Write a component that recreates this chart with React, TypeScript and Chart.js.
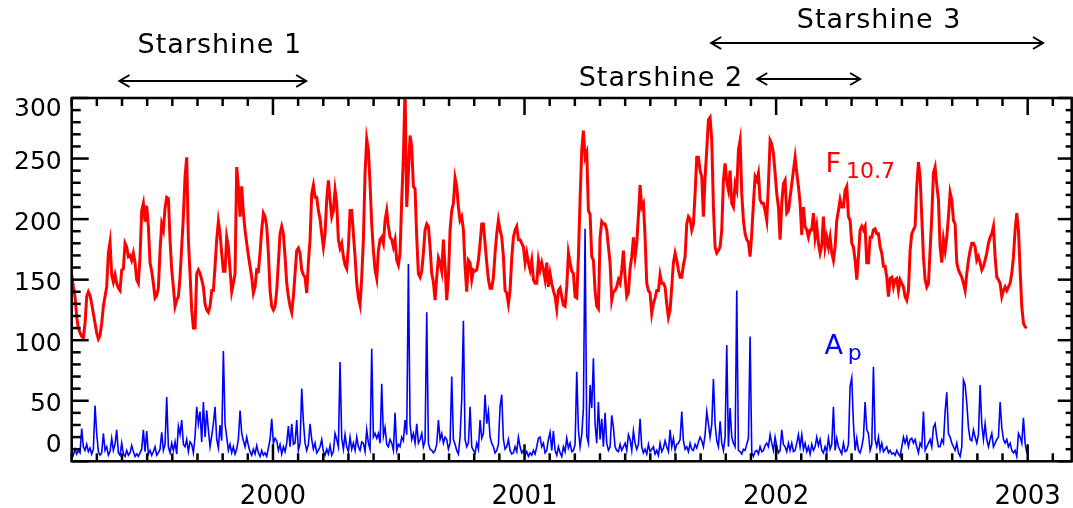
import React, { useEffect, useRef } from 'react';
import { Chart, registerables } from 'chart.js';

Chart.register(...registerables);

// ---- data -------------------------------------------------------------
// Daily-ish series sampled every STEP_DAYS, starting at START_YEAR (decimal year)
const START_YEAR = 1999.2;
const STEP_DAYS = 2.42;

// Solar radio flux F10.7
const F107 = [
  154, 144, 136, 119, 110, 106, 103, 102, 114, 136,
  140, 137, 130, 122, 114, 106, 101, 104, 114, 128,
  136, 144, 172, 181, 154, 148, 154, 147, 143, 141,
  158, 159, 180, 177, 169, 170, 166, 172, 164, 150,
  147, 169, 207, 213, 198, 211, 194, 164, 157, 147,
  135, 137, 143, 174, 196, 191, 209, 218, 217, 183,
  158, 144, 128, 133, 136, 152, 177, 202, 235, 251,
  183, 155, 125, 110, 110, 155, 158, 155, 150, 144,
  130, 125, 123, 128, 141, 141, 161, 183, 198, 188,
  172, 157, 157, 185, 177, 158, 140, 147, 155, 243,
  227, 202, 227, 205, 191, 180, 170, 161, 152, 139,
  144, 158, 157, 172, 191, 205, 202, 194, 172, 141,
  128, 125, 128, 141, 164, 188, 194, 188, 169, 147,
  136, 128, 123, 136, 155, 174, 176,
  172, 158, 154, 152, 139, 164, 183, 221, 228, 218,
  218, 207, 200, 188, 177, 188, 216, 232, 216, 202,
  207, 224, 213, 183, 176, 180, 169, 162, 159, 177,
  207, 207, 188, 169, 147, 135, 129, 152, 183, 238,
  266, 257, 229, 196, 174, 158, 151, 174, 183, 185,
  180, 199, 207, 194, 185, 183, 177, 183, 166, 162,
  172, 216, 251, 308, 210, 238, 269, 260, 227, 225,
  185, 155, 152, 157, 172, 191, 196, 194, 177, 155,
  148, 133, 152, 168, 164, 157, 183, 161, 133, 152,
  191, 207, 213, 234, 227, 210, 199, 202, 191, 161,
  140, 166, 164, 150, 158, 157, 158, 166, 180, 196,
  196, 180, 164, 150, 143, 143, 152, 172, 188, 199,
  191, 185, 169, 141, 139, 130, 141, 168, 185, 191,
  194, 183, 183, 180, 177, 164, 172, 164, 158, 166,
  150, 147, 147, 166,
  158, 164, 158, 150, 164, 144, 155, 147, 141, 136,
  126, 141, 143, 136, 129, 128, 144, 172, 164, 157,
  155, 136, 135, 169, 216, 257, 273, 251, 255, 207,
  204, 169, 166, 141, 128, 126, 185, 198, 196, 196,
  191, 177, 164, 133, 140, 141, 144, 150, 147, 158,
  174, 152, 136, 139, 159, 169, 185, 169, 180, 203,
  228, 210, 213, 185, 147, 141, 139, 122, 130, 135,
  141, 141, 154, 147, 147, 144, 130, 119, 125, 144,
  164, 172, 166, 158, 152, 152, 162, 169, 196, 202,
  200, 191, 196, 221, 251, 251, 240, 235, 202, 235,
  257, 282, 284, 265, 210, 177, 172, 174, 177, 191,
  232, 246, 231, 224, 240, 213, 210, 229, 224, 257,
  265, 221, 199, 188, 183, 181, 169, 188, 213, 235,
  232, 238, 216, 213, 213, 207, 199, 229, 265, 262,
  254, 238, 221, 210, 183, 213, 229, 232, 205, 207,
  218, 229, 240, 251, 238, 227, 213, 187, 210, 194,
  191, 185, 191, 191, 205, 185, 194, 180, 172, 178,
  202, 177, 185, 177, 185, 172, 166, 177, 199, 207,
  216, 210, 210, 224, 227, 202, 199, 180, 177, 166,
  150, 169, 191, 194, 191, 194, 164, 164, 185, 185,
  191, 192, 188, 188, 177, 172, 161, 161, 152, 136,
  151, 152, 144, 150, 151, 141, 150, 147, 144, 136,
  133, 141, 174, 188, 191, 194, 227, 247, 235, 202,
  169, 150, 144, 147, 174, 202, 238, 243, 228, 216,
  177, 164, 183, 174, 185, 202, 222, 216, 199, 196,
  164, 158, 155, 152, 147, 141, 155, 166, 174, 180,
  180, 177, 166, 169, 164, 158, 161, 166, 172, 180,
  185, 188, 194, 169, 152, 150, 147, 136, 141, 144,
  141, 144, 147, 155, 169, 191, 205, 191, 158, 128,
  114, 111, 110,
];

// Geomagnetic index Ap
const AP = [
  8, 5, 10, 6, 9, 7, 27, 12, 9, 14,
  8, 11, 6, 10, 46, 23, 8, 5, 7, 23,
  9, 12, 5, 8, 19, 9, 14, 26, 7, 5,
  15, 6, 4, 9, 5, 7, 13, 8, 4, 6,
  4, 7, 10, 26, 8, 25, 6, 9, 5, 8,
  12, 5, 7, 10, 24, 9, 14, 53, 12, 7,
  15, 9, 16, 6, 29, 22, 34, 14, 12, 18,
  8, 16, 14, 7, 20, 45, 31, 41, 16, 49,
  20, 42, 26, 12, 21, 31, 45, 18, 11, 30,
  17, 91, 31, 20, 9, 14, 7, 12, 6, 10,
  18, 42, 23, 17, 12, 20, 13, 8, 5, 10,
  6, 13, 7, 4, 9, 5, 7, 4, 11, 18,
  35, 15, 19, 17, 9, 14, 6, 12, 8, 15,
  29, 12, 31, 14, 15, 34, 9,
  15, 60, 33, 15, 9, 14, 31, 18, 10, 15,
  7, 9, 12, 18, 8, 5, 10, 6, 13, 5,
  8, 23, 18, 12, 82, 19, 10, 22, 12, 8,
  20, 10, 15, 9, 20, 12, 9, 16, 15, 8,
  26, 15, 10, 93, 20, 23, 19, 23, 15, 64,
  21, 28, 14, 12, 18, 15, 9, 40, 9, 14,
  12, 20, 17, 34, 22, 163, 31, 18, 23, 15,
  31, 15, 18, 23, 12, 17, 123, 15, 10, 9,
  7, 9, 14, 34, 18, 23, 15, 20, 18, 10,
  15, 70, 18, 14, 9, 6, 20, 51, 116, 18,
  12, 15, 45, 12, 9, 7, 15, 10, 34, 19,
  23, 55, 31, 41, 20, 15, 12, 7, 9, 14,
  45, 55, 18, 10, 12, 18, 9, 6, 7, 12,
  8, 20, 12, 7, 9, 5, 8, 4, 7, 5,
  9, 6, 12, 19,
  20, 12, 15, 7, 9, 18, 24, 9, 25, 9,
  5, 12, 7, 4, 12, 8, 19, 11, 15, 8,
  9, 14, 74, 26, 12, 22, 44, 192, 21, 15,
  63, 44, 85, 31, 15, 49, 18, 35, 12, 40,
  15, 9, 12, 38, 28, 12, 9, 8, 14, 9,
  12, 15, 9, 22, 18, 9, 25, 15, 10, 14,
  35, 12, 7, 10, 6, 14, 8, 10, 12, 6,
  9, 5, 15, 8, 11, 17, 12, 8, 26, 12,
  19, 9, 14, 15, 18, 41, 17, 10, 12, 8,
  15, 10, 9, 14, 11, 16, 20, 17, 12, 22,
  41, 31, 20, 30, 68, 31, 17, 12, 33, 15,
  9, 20, 96, 12, 44, 20, 15, 12, 141, 9,
  8, 6, 10, 9, 14, 19, 103, 7, 4, 8,
  9, 6, 12, 8, 9, 13, 15, 12, 22, 15,
  9, 20, 12, 7, 9, 26, 14, 12, 8, 15,
  9, 15, 8, 9, 15, 22, 12, 22, 10, 15,
  8, 12, 6, 14, 9, 12, 20, 13, 18, 9,
  7, 12, 8, 19, 10, 14, 45, 9, 19, 12,
  9, 6, 15, 8, 9, 14, 62, 69, 31, 9,
  19, 9, 7, 12, 20, 49, 26, 23, 9, 14,
  78, 18, 12, 20, 9, 15, 8, 10, 12, 7,
  9, 6, 7, 5, 9, 6, 4, 12, 20, 15,
  20, 12, 18, 19, 15, 18, 12, 7, 15, 12,
  41, 9, 12, 15, 18, 12, 28, 31, 20, 12,
  12, 18, 15, 41, 57, 23, 20, 15, 12, 9,
  15, 7, 4, 12, 67, 63, 48, 28, 18, 17,
  26, 20, 15, 22, 63, 31, 18, 31, 18, 12,
  18, 23, 12, 15, 18, 20, 49, 28, 18, 15,
  18, 12, 15, 9, 7, 9, 4, 23, 20, 15,
  36, 15, 7,
];

const X_MIN = 1999.2;
const X_MAX = 2003.175;
const X_TICK_YEARS = [2000, 2001, 2002, 2003];
const Y_TICK_LABELS = ['0', '50', '100', '150', '200', '250', '300'];
const Y_TICK_VALUES = [0, 50, 100, 150, 200, 250, 300];

// Satellite lifetimes (decimal years)
const MISSION_NAMES = ['Starshine 1', 'Starshine 2', 'Starshine 3'];
const MISSION_START = [1999.39, 2001.925, 2001.742];
const MISSION_END = [2000.132, 2002.334, 2003.061];

const SERIES_LABELS = [
  { main: 'F', sub: '10.7', color: '#ff0000', x: 2002.196, y: 239 },
  { main: 'A', sub: 'p', color: '#0000ff', x: 2002.192, y: 89 },
];

const FONT = 'DejaVu Sans';

// ---- helpers -----------------------------------------------------------
const toPoints = (vals: number[]) =>
  vals.map((v, i) => ({ x: START_YEAR + (i * STEP_DAYS) / 365.25, y: v }));

const line = (ctx: CanvasRenderingContext2D, x1: number, y1: number, x2: number, y2: number) => {
  ctx.beginPath();
  ctx.moveTo(x1, y1);
  ctx.lineTo(x2, y2);
  ctx.stroke();
};

const framePlugin = {
  id: 'frameAndAnnotations',
  afterDatasetsDraw(chart: any) {
    const { ctx, chartArea: a, scales } = chart;
    const xs = scales.x;
    const ys = scales.y;
    ctx.save();
    ctx.strokeStyle = '#000';
    ctx.fillStyle = '#000';
    ctx.lineWidth = 2.5;
    ctx.lineCap = 'butt';
    ctx.strokeRect(a.left, a.top, a.right - a.left, a.bottom - a.top);

    // y ticks (inward), left & right
    for (let v = 0; v <= 300; v += 10) {
      const y = ys.getPixelForValue(v);
      const major = v % 50 === 0;
      line(ctx, a.left, y, a.left + (major ? 17 : 9), y);
      line(ctx, a.right, y, a.right - (major ? 14 : 6), y);
    }
    // x ticks (inward), bottom & top, minor every 0.1 yr
    for (let i = Math.ceil(xs.min * 10); i <= Math.floor(xs.max * 10); i++) {
      const x = xs.getPixelForValue(i / 10);
      const major = i % 10 === 0;
      const len = major ? 17 : 8;
      line(ctx, x, a.top, x, a.top + len);
      line(ctx, x, a.bottom, x, a.bottom - len);
    }

    // y labels
    ctx.font = `25px "${FONT}"`;
    ctx.textAlign = 'right';
    ctx.textBaseline = 'middle';
    Y_TICK_VALUES.forEach((v, i) => {
      let y = ys.getPixelForValue(v) + 4;
      y = Math.max(a.top + 11, Math.min(a.bottom - 16, y));
      ctx.fillText(Y_TICK_LABELS[i], a.left - 10, y);
    });

    // mission arrows
    const arrowY = [a.top - 17, a.top - 19, a.top - 55];
    const textDy = [-35, 0, -22];
    ctx.lineWidth = 2;
    MISSION_NAMES.forEach((name, i) => {
      const x1 = xs.getPixelForValue(MISSION_START[i]);
      const x2 = xs.getPixelForValue(MISSION_END[i]);
      const y = arrowY[i];
      line(ctx, x1, y, x2, y);
      ctx.beginPath();
      ctx.moveTo(x1 + 10, y - 6);
      ctx.lineTo(x1, y);
      ctx.lineTo(x1 + 10, y + 6);
      ctx.moveTo(x2 - 10, y - 6);
      ctx.lineTo(x2, y);
      ctx.lineTo(x2 - 10, y + 6);
      ctx.stroke();

      ctx.font = `27px "${FONT}"`;
      (ctx as any).letterSpacing = '1px';
      ctx.textBaseline = 'middle';
      if (i === 1) {
        ctx.textAlign = 'right';
        ctx.fillText(name, x1 - 14, y + textDy[i]);
      } else {
        ctx.textAlign = 'center';
        ctx.fillText(name, (x1 + x2) / 2 + (i === 0 ? 7 : 2), y + textDy[i]);
      }
      (ctx as any).letterSpacing = '0px';
    });

    // series labels
    ctx.textAlign = 'left';
    ctx.textBaseline = 'alphabetic';
    SERIES_LABELS.forEach((s) => {
      const x = xs.getPixelForValue(s.x);
      const y = ys.getPixelForValue(s.y);
      ctx.fillStyle = s.color;
      ctx.font = `27px "${FONT}"`;
      ctx.fillText(s.main, x, y);
      const w = ctx.measureText(s.main).width;
      ctx.font = `22px "${FONT}"`;
      ctx.fillText(s.sub, x + w + 5, y + 6);
    });
    ctx.restore();
  },
};

export default function App() {
  const ref = useRef<HTMLCanvasElement | null>(null);

  useEffect(() => {
    if (!ref.current) return;
    const chart = new Chart(ref.current, {
      type: 'line',
      data: {
        datasets: [
          {
            label: 'Ap',
            data: toPoints(AP),
            borderColor: '#0000ff',
            borderWidth: 1.6,
            pointRadius: 0,
            tension: 0,
          },
          {
            label: 'F10.7',
            data: toPoints(F107),
            borderColor: '#ff0000',
            borderWidth: 3,
            pointRadius: 0,
            tension: 0,
          },
        ],
      },
      options: {
        responsive: false,
        animation: false,
        events: [],
        layout: { padding: { top: 98, right: 1.3, left: 0, bottom: 0 } },
        plugins: { legend: { display: false }, tooltip: { enabled: false } },
        scales: {
          x: {
            type: 'linear',
            min: X_MIN,
            max: X_MAX,
            grid: { display: false },
            border: { display: false },
            afterBuildTicks: (s: any) => {
              s.ticks = X_TICK_YEARS.map((v) => ({ value: v }));
            },
            afterFit: (s: any) => {
              s.height = 46.7;
              s.paddingLeft = 0;
              s.paddingRight = 0;
            },
            ticks: {
              autoSkip: false,
              maxRotation: 0,
              padding: 12,
              color: '#000',
              font: { family: FONT, size: 26 },
              callback: (v: any) => String(v),
            },
          },
          y: {
            min: 0,
            max: 300,
            grid: { display: false },
            border: { display: false },
            ticks: { display: false },
            afterFit: (s: any) => {
              s.width = 71.7;
              s.paddingTop = 0;
              s.paddingBottom = 0;
            },
          },
        },
      },
      plugins: [framePlugin],
    });
    return () => chart.destroy();
  }, []);

  return (
    <div style={{ position: 'fixed', left: 0, top: 0, width: 1073, height: 508, background: '#fff' }}>
      <canvas ref={ref} width={1073} height={508} />
    </div>
  );
}
